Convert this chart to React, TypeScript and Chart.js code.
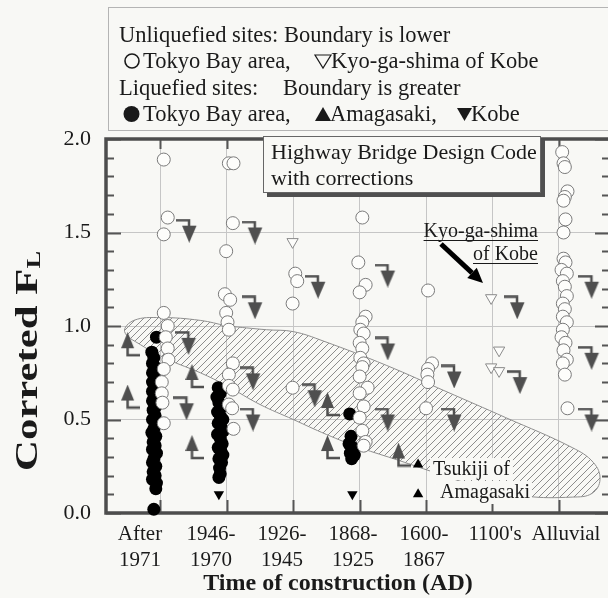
import React, { useEffect, useRef } from 'react';
import { Chart, registerables } from 'chart.js';

Chart.register(...registerables);

const SERIF = '"Liberation Serif", "Times New Roman", serif';
const PAGE_BG = '#f8f8f5';

// x categories (index 0..6)
const categoryLabels: string[][] = [
  ['After', '1971'], ['1946-', '1970'], ['1926-', '1945'], ['1868-', '1925'],
  ['1600-', '1867'], ["1100's"], ['Alluvial'],
];
const yMin = 0;
const yMax = 2;
const yMinorStep = 0.1;

// Unliquefied sites, Tokyo Bay area (open circles) [x, FL]
const unliqTokyo: [number, number][] = [
  [0.05, 1.89], [0.11, 1.58], [0.05, 1.49], [0.05, 1.07], [0.11, 1.0], [0.08, 0.94], [0.11, 0.88],
  [0.12, 0.82], [0.05, 0.77], [0.02, 0.7], [0.02, 0.64], [0.03, 0.59], [0.05, 0.48],
  [1.03, 1.87], [1.1, 1.87], [1.09, 1.55], [0.99, 1.4], [0.97, 1.17], [1.05, 1.14], [0.99, 1.07],
  [1.01, 1.02], [1.03, 0.98], [1.09, 0.8], [1.03, 0.74], [1.03, 0.68], [1.09, 0.66], [1.03, 0.58],
  [1.08, 0.56], [1.1, 0.45],
  [2.03, 1.28], [2.06, 1.24], [1.99, 1.12], [1.99, 0.67],
  [3.04, 1.58], [2.98, 1.34], [3.09, 1.22], [3.0, 1.18], [3.09, 1.05], [3.04, 1.02], [3.01, 0.98],
  [3.06, 0.96], [3.0, 0.91], [3.04, 0.88], [3.01, 0.83], [3.06, 0.8], [3.04, 0.78], [3.0, 0.73],
  [3.12, 0.67], [3.0, 0.64], [3.06, 0.57], [3.0, 0.51], [3.04, 0.44], [3.09, 0.38], [3.06, 0.36],
  [4.03, 1.19], [4.09, 0.8], [4.03, 0.77], [4.02, 0.74], [4.03, 0.7], [4.0, 0.56],
  [6.05, 1.93], [6.07, 1.87], [6.09, 1.85], [6.13, 1.72], [6.09, 1.69], [6.07, 1.67], [6.1, 1.57],
  [6.07, 1.5], [6.07, 1.36], [6.1, 1.34], [6.04, 1.3], [6.12, 1.28], [6.06, 1.24], [6.09, 1.21],
  [6.12, 1.16], [6.06, 1.12], [6.09, 1.09], [6.06, 1.05], [6.12, 1.02], [6.06, 0.98], [6.04, 0.94],
  [6.1, 0.91], [6.07, 0.87], [6.12, 0.82], [6.06, 0.8], [6.09, 0.74], [6.13, 0.56],
];

// Unliquefied sites, Kyo-ga-shima of Kobe (open down triangles)
const unliqKobe: [number, number][] = [
  [1.99, 1.45], [4.98, 1.15], [5.1, 0.87], [4.98, 0.78], [5.1, 0.76],
];

// Liquefied sites, Tokyo Bay area (filled circles)
const liqTokyo: [number, number][] = [
  [-0.06, 0.94], [-0.13, 0.86], [-0.1, 0.83], [-0.12, 0.8], [-0.08, 0.78], [-0.12, 0.75], [-0.09, 0.73],
  [-0.12, 0.7], [-0.07, 0.68], [-0.12, 0.65], [-0.09, 0.62], [-0.12, 0.6], [-0.07, 0.57], [-0.11, 0.55],
  [-0.08, 0.52], [-0.12, 0.5], [-0.06, 0.48], [-0.1, 0.45], [-0.13, 0.43], [-0.07, 0.41], [-0.11, 0.38],
  [-0.08, 0.36], [-0.12, 0.34], [-0.06, 0.32], [-0.1, 0.29], [-0.12, 0.27], [-0.07, 0.25], [-0.11, 0.22],
  [-0.08, 0.2], [-0.12, 0.18], [-0.06, 0.16], [-0.07, 0.13], [-0.1, 0.02],
  [0.87, 0.67], [0.9, 0.64], [0.85, 0.62], [0.88, 0.59], [0.93, 0.57], [0.86, 0.54], [0.9, 0.52],
  [0.94, 0.5], [0.87, 0.48], [0.91, 0.46], [0.95, 0.44], [0.86, 0.42], [0.9, 0.4], [0.93, 0.37],
  [0.87, 0.35], [0.91, 0.33], [0.94, 0.31], [0.88, 0.29], [0.92, 0.27], [0.89, 0.24], [0.9, 0.21],
  [0.88, 0.19],
  [2.85, 0.53], [2.87, 0.41], [2.84, 0.37], [2.9, 0.35], [2.86, 0.32], [2.92, 0.31], [2.88, 0.29],
];

// Liquefied sites, Amagasaki (filled up triangles)
const liqAmagasaki: [number, number][] = [[3.88, 0.26], [3.88, 0.1]];

// Liquefied sites, Kobe (filled down triangles)
const liqKobe: [number, number][] = [[0.88, 0.1], [2.89, 0.1]];

// Boundary is lower (hooked down arrows)
const boundaryLower: [number, number][] = [
  [0.4, 1.51], [0.39, 0.91], [0.36, 0.56], [1.39, 1.5], [1.39, 1.1], [1.36, 0.72], [1.36, 0.5],
  [2.34, 1.21], [2.29, 0.63], [3.39, 1.27], [3.39, 0.88], [3.39, 0.5], [4.39, 0.73], [4.39, 0.5],
  [5.34, 1.1], [5.38, 0.7], [6.46, 1.21], [6.46, 0.83], [6.46, 0.5],
];

// Boundary is greater (hooked up arrows)
const boundaryGreater: [number, number][] = [
  [-0.45, 0.9], [-0.45, 0.62], [0.52, 0.73], [0.52, 0.35], [2.56, 0.58], [2.56, 0.35], [3.63, 0.31],
];

// Hatched boundary band (closed outline)
const bandOutline: [number, number][] = [
  [1.0, 1.0], [1.6, 0.98], [2.0, 0.97], [2.45, 0.92], [3.4, 0.79], [4.3, 0.65], [5.2, 0.51],
  [6.2, 0.35], [6.52, 0.27], [6.62, 0.18], [6.5, 0.105], [6.2, 0.085], [5.5, 0.09], [4.8, 0.14],
  [4.1, 0.22], [3.6, 0.28], [3.0, 0.35], [2.5, 0.42], [2.0, 0.5], [1.5, 0.58], [1.0, 0.68],
  [0.6, 0.75], [0.12, 0.82], [-0.3, 0.9], [-0.54, 0.97], [-0.4, 1.03], [0.0, 1.045], [0.6, 1.03],
  [1.0, 1.0],
];

const toXY = (arr: [number, number][]) => arr.map(([x, y]) => ({ x, y }));
const isMajor = (v: number) => Math.round(v * 10) % 5 === 0;

function makeDownHook(): HTMLCanvasElement {
  const c = document.createElement('canvas');
  c.width = 22;
  c.height = 24;
  const g = c.getContext('2d')!;
  g.strokeStyle = '#4f4f4f';
  g.fillStyle = '#4f4f4f';
  g.lineWidth = 2.5;
  g.beginPath();
  g.moveTo(0, 1.5);
  g.lineTo(13, 1.5);
  g.lineTo(13, 8);
  g.stroke();
  g.beginPath();
  g.moveTo(6, 7);
  g.lineTo(20.5, 7);
  g.lineTo(13.2, 24);
  g.closePath();
  g.fill();
  return c;
}

function makeUpHook(): HTMLCanvasElement {
  const c = document.createElement('canvas');
  c.width = 19;
  c.height = 25;
  const g = c.getContext('2d')!;
  g.strokeStyle = '#4f4f4f';
  g.fillStyle = '#4f4f4f';
  g.lineWidth = 2.5;
  g.beginPath();
  g.moveTo(6.5, 0);
  g.lineTo(13, 16);
  g.lineTo(0, 16);
  g.closePath();
  g.fill();
  g.beginPath();
  g.moveTo(6.5, 15);
  g.lineTo(6.5, 23);
  g.lineTo(19, 23);
  g.stroke();
  return c;
}

function makeHatch(ctx: CanvasRenderingContext2D): CanvasPattern | string {
  const c = document.createElement('canvas');
  c.width = 7;
  c.height = 7;
  const g = c.getContext('2d')!;
  g.strokeStyle = '#8c8c8c';
  g.lineWidth = 1;
  g.beginPath();
  g.moveTo(0, 7);
  g.lineTo(7, 0);
  g.moveTo(-1, 1);
  g.lineTo(1, -1);
  g.moveTo(6, 8);
  g.lineTo(8, 6);
  g.stroke();
  return ctx.createPattern(c, 'repeat') || '#ccc';
}

const decorPlugin = {
  id: 'decor',
  beforeDatasetsDraw(chart: any) {
    const { ctx, chartArea: a, scales } = chart;
    const x = scales.x;
    const y = scales.y;
    ctx.save();
    ctx.strokeStyle = '#555';
    ctx.lineWidth = 2;
    const n = Math.round((yMax - yMin) / yMinorStep);
    ctx.beginPath();
    for (let i = 0; i <= n; i++) {
      const v = yMin + i * yMinorStep;
      const py = Math.round(y.getPixelForValue(v)) + 0.5;
      const len = isMajor(v) ? 15 : 8;
      ctx.moveTo(a.left, py);
      ctx.lineTo(a.left + len, py);
      ctx.moveTo(a.right, py);
      ctx.lineTo(a.right - len, py);
    }
    categoryLabels.forEach((_, i) => {
      const px = Math.round(x.getPixelForValue(i)) + 0.5;
      ctx.moveTo(px, a.bottom);
      ctx.lineTo(px, a.bottom - 13);
      ctx.moveTo(px, a.top);
      ctx.lineTo(px, a.top + 10);
    });
    ctx.stroke();
    ctx.lineWidth = 3.5;
    ctx.strokeStyle = '#4d4d4d';
    ctx.strokeRect(a.left, a.top, a.right - a.left, a.bottom - a.top);
    ctx.restore();
  },
  afterDraw(chart: any) {
    const { ctx } = chart;
    ctx.save();
    ctx.fillStyle = '#1a1a1a';
    ctx.textBaseline = 'alphabetic';

    // Legend box
    ctx.strokeStyle = '#b4b4b4';
    ctx.lineWidth = 1;
    ctx.strokeRect(108.5, 7.5, 520, 123);
    ctx.font = `22.5px ${SERIF}`;
    ctx.fillStyle = '#1a1a1a';
    ctx.textAlign = 'left';
    ctx.fillText('Unliquefied sites: Boundary is lower', 119, 42);
    ctx.fillText('Tokyo Bay area,', 143, 68);
    ctx.fillText('Kyo-ga-shima of Kobe', 331, 68);
    ctx.fillText('Liquefied sites:', 119, 95);
    ctx.fillText('Boundary is greater', 283, 95);
    ctx.fillText('Tokyo Bay area,', 143, 121);
    ctx.fillText('Amagasaki,', 330, 121);
    ctx.fillText('Kobe', 471, 121);
    // legend markers
    ctx.strokeStyle = '#1a1a1a';
    ctx.lineWidth = 1.6;
    ctx.beginPath();
    ctx.arc(132, 61, 7, 0, Math.PI * 2);
    ctx.stroke();
    ctx.lineWidth = 1.2;
    ctx.beginPath();
    ctx.moveTo(315, 55);
    ctx.lineTo(331, 55);
    ctx.lineTo(323, 68);
    ctx.closePath();
    ctx.stroke();
    ctx.beginPath();
    ctx.arc(131.5, 114, 8, 0, Math.PI * 2);
    ctx.fill();
    ctx.beginPath();
    ctx.moveTo(323, 107);
    ctx.lineTo(331, 121);
    ctx.lineTo(315, 121);
    ctx.closePath();
    ctx.fill();
    ctx.beginPath();
    ctx.moveTo(457, 108);
    ctx.lineTo(472, 108);
    ctx.lineTo(464.5, 121);
    ctx.closePath();
    ctx.fill();

    // Highway Bridge Design Code box
    ctx.fillStyle = '#505050';
    ctx.fillRect(267, 140, 278, 57);
    ctx.fillStyle = PAGE_BG;
    ctx.fillRect(263, 136, 278, 57);
    ctx.strokeStyle = '#666';
    ctx.lineWidth = 1;
    ctx.strokeRect(263.5, 136.5, 277, 56);
    ctx.fillStyle = '#1a1a1a';
    ctx.font = `22px ${SERIF}`;
    ctx.fillText('Highway Bridge Design Code', 271, 159);
    ctx.fillText('with corrections', 271, 185);

    // Kyo-ga-shima of Kobe label
    ctx.font = `20px ${SERIF}`;
    ctx.textAlign = 'right';
    ctx.fillText('Kyo-ga-shima', 538, 237);
    ctx.fillText('of Kobe', 538, 260);
    const w1 = ctx.measureText('Kyo-ga-shima').width;
    const w2 = ctx.measureText('of Kobe').width;
    ctx.strokeStyle = '#1a1a1a';
    ctx.lineWidth = 1;
    ctx.beginPath();
    ctx.moveTo(538 - w1, 240.5);
    ctx.lineTo(538, 240.5);
    ctx.moveTo(538 - w2, 263.5);
    ctx.lineTo(538, 263.5);
    ctx.stroke();
    // arrow
    const ax0 = 441, ay0 = 244, ax1 = 483, ay1 = 283;
    const ang = Math.atan2(ay1 - ay0, ax1 - ax0);
    const headLen = 15, headW = 7;
    const bx = ax1 - headLen * Math.cos(ang);
    const by = ay1 - headLen * Math.sin(ang);
    ctx.strokeStyle = '#000';
    ctx.lineWidth = 5;
    ctx.beginPath();
    ctx.moveTo(ax0, ay0);
    ctx.lineTo(bx, by);
    ctx.stroke();
    ctx.fillStyle = '#000';
    ctx.beginPath();
    ctx.moveTo(ax1, ay1);
    ctx.lineTo(bx + headW * Math.sin(ang), by - headW * Math.cos(ang));
    ctx.lineTo(bx - headW * Math.sin(ang), by + headW * Math.cos(ang));
    ctx.closePath();
    ctx.fill();

    // Tsukiji of Amagasaki label
    ctx.font = `20px ${SERIF}`;
    ctx.textAlign = 'left';
    const t1 = 'Tsukiji of';
    const t2 = 'Amagasaki';
    ctx.fillStyle = PAGE_BG;
    ctx.fillRect(430, 458, ctx.measureText(t1).width + 6, 22);
    ctx.fillRect(437, 481, ctx.measureText(t2).width + 5, 23);
    ctx.fillStyle = '#1a1a1a';
    ctx.fillText(t1, 433, 475);
    ctx.fillText(t2, 440, 498);

    // x-axis title
    ctx.font = `bold 24px ${SERIF}`;
    ctx.textAlign = 'center';
    ctx.fillText('Time of construction (AD)', 338, 590);

    // y-axis title with subscript (stretched along its length as in the figure)
    ctx.translate(37, 361);
    ctx.rotate(-Math.PI / 2);
    ctx.scale(1.38, 1);
    ctx.font = `bold 31px ${SERIF}`;
    const main = 'Correted F';
    const mw = ctx.measureText(main).width;
    ctx.font = `bold 19px ${SERIF}`;
    const sw = ctx.measureText('L').width;
    const start = -(mw + sw) / 2;
    ctx.textAlign = 'left';
    ctx.font = `bold 31px ${SERIF}`;
    ctx.fillText(main, start, 0);
    ctx.font = `bold 19px ${SERIF}`;
    ctx.fillText('L', start + mw, 3);
    ctx.restore();
  },
};

const xTickBuild = (scale: any) => {
  scale.ticks = categoryLabels.map((_, i) => ({ value: i }));
};

export default function App() {
  const canvasRef = useRef<HTMLCanvasElement | null>(null);

  useEffect(() => {
    const canvas = canvasRef.current;
    if (!canvas) return;
    const ctx = canvas.getContext('2d')!;
    const downHook = makeDownHook();
    const upHook = makeUpHook();
    const hatch = makeHatch(ctx);
    const tickFont = { family: SERIF, size: 22 };

    const chart = new Chart(ctx, {
      type: 'scatter',
      data: {
        datasets: [
          {
            label: 'Kyo-ga-shima of Kobe (unliquefied)',
            data: toXY(unliqKobe),
            pointStyle: 'triangle',
            rotation: 180,
            pointRadius: 6.5,
            pointBackgroundColor: '#fdfdfb',
            pointBorderColor: '#8a8a8a',
            pointBorderWidth: 1,
            order: 1,
            clip: false,
          } as any,
          {
            label: 'Amagasaki (liquefied)',
            data: toXY(liqAmagasaki),
            pointStyle: 'triangle',
            pointRadius: 6,
            pointBackgroundColor: '#000',
            pointBorderColor: '#000',
            pointBorderWidth: 0,
            order: 1,
            clip: false,
          },
          {
            label: 'Kobe (liquefied)',
            data: toXY(liqKobe),
            pointStyle: 'triangle',
            rotation: 180,
            pointRadius: 6,
            pointBackgroundColor: '#000',
            pointBorderColor: '#000',
            pointBorderWidth: 0,
            order: 1,
            clip: false,
          },
          {
            label: 'Tokyo Bay area (unliquefied)',
            data: toXY(unliqTokyo),
            pointStyle: 'circle',
            pointRadius: 6.5,
            pointBackgroundColor: '#fdfdfb',
            pointBorderColor: '#7a7a7a',
            pointBorderWidth: 1,
            order: 3,
            clip: false,
          },
          {
            label: 'Tokyo Bay area (liquefied)',
            data: toXY(liqTokyo),
            pointStyle: 'circle',
            pointRadius: 6.5,
            pointBackgroundColor: '#000',
            pointBorderColor: '#000',
            pointBorderWidth: 0,
            order: 5,
            clip: false,
          },
          {
            label: 'Boundary is lower',
            data: toXY(boundaryLower),
            pointStyle: downHook,
            pointRadius: 10,
            order: 7,
            clip: false,
          },
          {
            label: 'Boundary is greater',
            data: toXY(boundaryGreater),
            pointStyle: upHook,
            pointRadius: 10,
            order: 7,
            clip: false,
          },
          {
            type: 'line',
            label: 'Boundary band',
            data: toXY(bandOutline),
            showLine: true,
            tension: 0.4,
            fill: 'shape',
            backgroundColor: hatch,
            borderColor: '#8e8e8e',
            borderWidth: 1,
            pointRadius: 0,
            order: 9,
            clip: false,
          } as any,
        ],
      },
      options: {
        animation: false,
        responsive: false,
        maintainAspectRatio: false,
        devicePixelRatio: 1,
        layout: { padding: { top: 139, left: 8, right: 15, bottom: 0 } },
        plugins: { legend: { display: false }, tooltip: { enabled: false } },
        scales: {
          x: {
            type: 'linear',
            position: 'bottom',
            min: -0.82,
            max: 6.77,
            afterBuildTicks: xTickBuild,
            afterFit: (scale: any) => {
              scale.height = 0;
            },
            ticks: { display: false },
            grid: { color: '#c6c6c6', lineWidth: 1, drawTicks: false },
            border: { display: false },
          },
          // label axis: the figure's category captions sit on a slightly wider spacing
          xLabels: {
            type: 'linear',
            position: 'bottom',
            min: -0.479,
            max: 6.62,
            afterBuildTicks: xTickBuild,
            afterFit: (scale: any) => {
              scale.height = 85;
            },
            ticks: {
              autoSkip: false,
              maxRotation: 0,
              padding: 8,
              color: '#1a1a1a',
              font: { family: SERIF, size: 21, lineHeight: 1.25 },
              callback: (v: any) => categoryLabels[Math.round(Number(v))],
            },
            grid: { display: false, drawTicks: false },
            border: { display: false },
          },
          y: {
            type: 'linear',
            min: yMin,
            max: yMax,
            afterFit: (scale: any) => {
              scale.width = 98;
            },
            ticks: {
              stepSize: yMinorStep,
              autoSkip: false,
              padding: 15,
              color: '#1a1a1a',
              font: tickFont,
              callback: (v: any) => (isMajor(Number(v)) ? Number(v).toFixed(1) : ''),
            },
            grid: {
              drawTicks: false,
              lineWidth: 1,
              color: (c: any) => (c.tick && isMajor(c.tick.value) ? '#c6c6c6' : 'rgba(0,0,0,0)'),
            },
            border: { display: false },
          },
        },
      } as any,
      plugins: [decorPlugin],
    });

    return () => chart.destroy();
  }, []);

  return (
    <div
      style={{
        position: 'fixed',
        left: 0,
        top: 0,
        width: 608,
        height: 598,
        overflow: 'hidden',
        background: PAGE_BG,
      }}
    >
      <canvas ref={canvasRef} width={625} height={598} style={{ display: 'block' }} />
    </div>
  );
}
